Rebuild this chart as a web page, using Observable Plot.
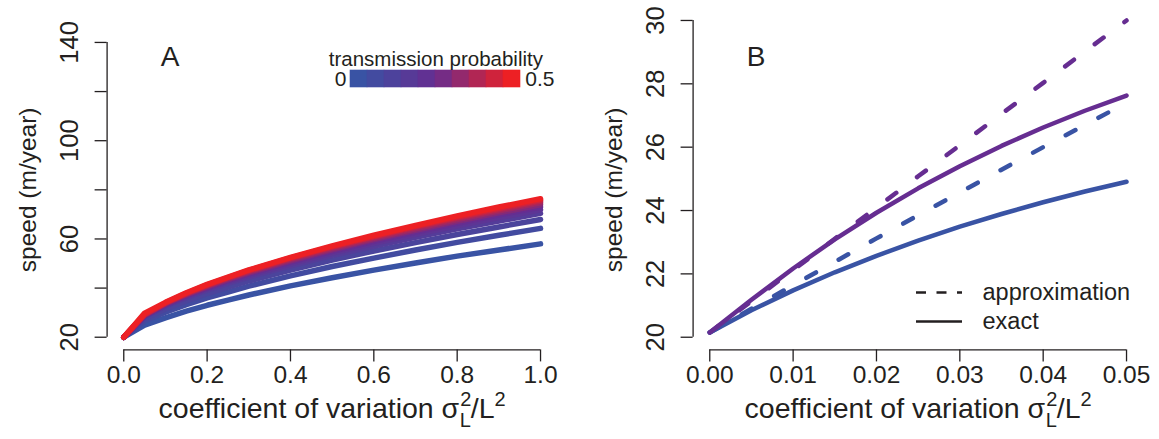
<!DOCTYPE html>
<html>
<head>
<meta charset="utf-8">
<script src="https://cdn.jsdelivr.net/npm/d3@7"></script>
<script src="https://cdn.jsdelivr.net/npm/@observablehq/plot@0.6"></script>
<style>
  html, body { margin: 0; padding: 0; background: #fff; }
  #root { position: relative; width: 1159px; height: 439px; overflow: hidden; background: #fff; }
  #root > svg, #root > figure { position: absolute; margin: 0; }
  #root g[aria-label$="tick"] { stroke-width: 1.3px; }
</style>
</head>
<body>
<div id="root"></div>
<script>
// ---------------- data ----------------
// Panel A: speed vs coefficient of variation for several transmission probabilities
const cvA = [0, 0.05, 0.1, 0.15, 0.2, 0.25, 0.3, 0.4, 0.5, 0.6, 0.7, 0.8, 0.9, 1.0];
const transmissionProbs = [0, 0.05, 0.1, 0.15, 0.2, 0.25, 0.3, 0.35, 0.4, 0.45, 0.5];
const speedP000 = [20, 24.9, 27.9, 30.6, 33.0, 35.1, 37.2, 40.9, 44.2, 47.3, 50.2, 53.0, 55.5, 58.0];
const speedP005 = [20, 26.6, 30.2, 33.3, 36.0, 38.4, 40.8, 45.0, 48.8, 52.2, 55.5, 58.6, 61.5, 64.3];
const speedP010 = [20, 27.5, 31.5, 34.8, 37.8, 40.4, 42.9, 47.3, 51.4, 55.1, 58.5, 61.8, 64.9, 67.9];
const speedP015 = [20, 28.4, 32.7, 36.1, 39.2, 41.9, 44.5, 49.1, 53.3, 57.1, 60.7, 64.1, 67.3, 70.4];
const speedP020 = [20, 28.6, 33.0, 36.6, 39.8, 42.6, 45.2, 49.9, 54.3, 58.2, 61.9, 65.4, 68.7, 71.9];
const speedP025 = [20, 28.8, 33.3, 37.0, 40.2, 43.1, 45.8, 50.6, 55.0, 59.0, 62.8, 66.4, 69.8, 73.0];
const speedP030 = [20, 28.9, 33.5, 37.2, 40.5, 43.4, 46.2, 51.1, 55.6, 59.7, 63.5, 67.2, 70.6, 73.9];
const speedP035 = [20, 29.1, 33.7, 37.5, 40.8, 43.8, 46.6, 51.6, 56.1, 60.3, 64.1, 67.9, 71.4, 74.7];
const speedP040 = [20, 29.2, 33.9, 37.7, 41.1, 44.1, 46.9, 52.0, 56.6, 60.8, 64.7, 68.5, 72.0, 75.4];
const speedP045 = [20, 29.3, 34.0, 37.9, 41.3, 44.3, 47.2, 52.3, 56.9, 61.1, 65.1, 68.9, 72.5, 75.9];
const speedP050 = [20, 29.8, 34.2, 38.1, 41.5, 44.5, 47.4, 52.5, 57.2, 61.5, 65.5, 69.4, 73.0, 76.4];

// Panel B: exact vs approximation for two transmission probabilities
const cvB = [0, 0.005, 0.01, 0.015, 0.02, 0.025, 0.03, 0.035, 0.04, 0.045, 0.05];
const exactBlue    = [20.15, 20.85, 21.48, 22.05, 22.57, 23.05, 23.49, 23.89, 24.26, 24.60, 24.91];
const approxBlue   = [20.15, 20.90, 21.64, 22.38, 23.12, 23.85, 24.57, 25.29, 26.00, 26.70, 27.40];
const exactPurple  = [20.15, 21.18, 22.17, 23.09, 23.93, 24.70, 25.40, 26.04, 26.62, 27.15, 27.63];
const approxPurple = [20.15, 21.14, 22.12, 23.11, 24.09, 25.08, 26.06, 27.05, 28.03, 29.02, 30.00];

// ticks and labels
const xTicksA = [0, 0.2, 0.4, 0.6, 0.8, 1.0];
const yTicksA = [20, 40, 60, 80, 100, 120, 140];
const yLabelsA = [20, 60, 100, 140];
const xTicksB = [0, 0.01, 0.02, 0.03, 0.04, 0.05];
const yTicksB = [20, 22, 24, 26, 28, 30];
const yLabelsB = [20, 22, 24, 26, 28, 30];
const yTitle = "speed (m/year)";
const xTitle = "coefficient of variation σ_L^2/L^2";
const legendTitleA = "transmission probability";
const legendEndsA = ["0", "0.5"];
const legendBlocksA = [0, 0.0556, 0.1111, 0.1667, 0.2222, 0.2778, 0.3333, 0.3889, 0.4444, 0.5];
const legendItemsB = ["approximation", "exact"];

// ---------------- styles ----------------
const INK = "#231F20";
const FONT = '"Liberation Sans", Arial, Helvetica, sans-serif';
const BLUE = "#3953A4", PURPLE = "#662D91", RED = "#ED2024";
const colorScale = {type: "linear", domain: [0, 0.25, 0.5], range: [BLUE, PURPLE, RED], interpolate: "rgb"};
const XTICK_FS = 24.5, YTICK_FS = 25.5, XTITLE_FS = 28.5, YTITLE_FS = 24.5;

const seriesA = [speedP000, speedP005, speedP010, speedP015, speedP020, speedP025,
                 speedP030, speedP035, speedP040, speedP045, speedP050];
const rowsA = [];
transmissionProbs.forEach((p, k) => cvA.forEach((cv, i) => rowsA.push({p, cv, speed: seriesA[k][i]})));
const rowsOf = (xs, ys) => xs.map((cv, i) => ({cv, speed: ys[i]}));

function axisMarks(xTicks, yTicks, yLabels, xDomain, yDomain, fmt, letter) {
  return [
    Plot.ruleY([yDomain[0]], {x1: xTicks[0], x2: xTicks[xTicks.length - 1], stroke: INK, strokeWidth: 1.3}),
    Plot.ruleX([xDomain[0]], {y1: yTicks[0], y2: yTicks[yTicks.length - 1], stroke: INK, strokeWidth: 1.3}),
    Plot.text(xTicks, {x: d => d, frameAnchor: "bottom", dy: 33, textAnchor: "middle", text: d => fmt(d), fontSize: XTICK_FS, fill: INK}),
    Plot.text(yLabels, {y: d => d, frameAnchor: "left", dx: -37, rotate: -90, textAnchor: "middle", text: d => String(d), fontSize: YTICK_FS, fill: INK}),
    Plot.text([yTitle], {frameAnchor: "left", dx: -79, dy: 11, rotate: -90, textAnchor: "middle", text: d => d, fontSize: YTITLE_FS, fill: INK}),
    Plot.text([xTitle], {frameAnchor: "bottom", dy: 68, textAnchor: "middle", text: d => d, fontSize: XTITLE_FS, fill: INK}),
    Plot.text([letter], {frameAnchor: "top-left", dx: 63, dy: 38, textAnchor: "middle", text: d => d, fontSize: 28, fill: INK})
  ];
}

function basePlot(opts) {
  return Plot.plot({
    width: opts.width, height: 439,
    marginLeft: opts.ml, marginRight: opts.mr, marginTop: 7.3, marginBottom: 89.6,
    style: {fontFamily: FONT, fontSize: "24px", color: INK, background: "transparent", overflow: "visible"},
    x: {domain: opts.xDomain, ticks: opts.xTicks, tickSize: 12, tickFormat: () => "", label: null},
    y: {domain: opts.yDomain, ticks: opts.yTicks, tickSize: 12, tickFormat: () => "", label: null},
    color: colorScale,
    marks: opts.marks
  });
}

function richTitle(svg) {
  const NS = "http://www.w3.org/2000/svg";
  const small = Math.round(XTITLE_FS * 0.7);
  for (const t of svg.querySelectorAll("text")) {
    if (t.textContent === xTitle) {
      t.textContent = "coefficient of variation σ";
      const add = (s, dy, dx, size) => {
        const ts = document.createElementNS(NS, "tspan");
        ts.textContent = s;
        if (dy) ts.setAttribute("dy", dy);
        if (dx) ts.setAttribute("dx", dx);
        if (size) ts.setAttribute("font-size", size);
        t.appendChild(ts);
      };
      add("2", -12, 1, small);
      add("L", 21, -(small * 0.556 + 0.5), small);
      add("/L", -9, 0, null);
      add("2", -12, 0, small);
    }
  }
}

// ---------------- panel A ----------------
const xDomainA = [-0.04, 1.04], yDomainA = [14.84, 154.1];
const panelA = basePlot({
  width: 580, ml: 106.6, mr: 23.3, xDomain: xDomainA, yDomain: yDomainA, xTicks: xTicksA, yTicks: yTicksA,
  marks: [
    Plot.line(rowsA, {x: "cv", y: "speed", z: "p", stroke: "p", strokeWidth: 5.5, strokeLinecap: "round", strokeLinejoin: "round"}),
    ...axisMarks(xTicksA, yTicksA, yLabelsA, xDomainA, yDomainA, d3.format(".1f"), "A")
  ]
});
panelA.style.left = "0px"; panelA.style.top = "0px";
richTitle(panelA);

// ---------------- panel B ----------------
const xDomainB = [-0.002, 0.052], yDomainB = [19.6, 30.4];
const lineB = (ys, color, dashed) => Plot.line(rowsOf(cvB, ys), {
  x: "cv", y: "speed", stroke: color, strokeWidth: 4.5, strokeLinecap: "round", strokeLinejoin: "round",
  strokeDasharray: dashed ? "11,26" : null
});
const panelB = basePlot({
  width: 579, ml: 112.6, mr: 16.3, xDomain: xDomainB, yDomain: yDomainB, xTicks: xTicksB, yTicks: yTicksB,
  marks: [
    lineB(exactBlue, BLUE, false),
    lineB(exactPurple, PURPLE, false),
    lineB(approxBlue, BLUE, true),
    lineB(approxPurple, PURPLE, true),
    ...axisMarks(xTicksB, yTicksB, yLabelsB, xDomainB, yDomainB, d3.format(".2f"), "B")
  ]
});
panelB.style.left = "580px"; panelB.style.top = "0px";
richTitle(panelB);

// ---------------- legend A (colour bar) ----------------
const legendA = Plot.plot({
  width: 260, height: 70, marginLeft: 49, marginRight: 38.3, marginTop: 40, marginBottom: 13,
  style: {fontFamily: FONT, fontSize: "20px", color: INK, background: "transparent", overflow: "visible"},
  x: {type: "band", domain: legendBlocksA, padding: 0, axis: null},
  color: colorScale,
  marks: [
    Plot.cell(legendBlocksA, {x: d => d, fill: d => d, stroke: d => d, strokeWidth: 0.6, inset: 0}),
    Plot.text([legendTitleA], {frameAnchor: "top", dy: -19, textAnchor: "middle", text: d => d, fontSize: 20.5, fill: INK}),
    Plot.text([legendEndsA[0]], {frameAnchor: "left", dx: -3, textAnchor: "end", text: d => d, fontSize: 21, fill: INK}),
    Plot.text([legendEndsA[1]], {frameAnchor: "right", dx: 3, textAnchor: "start", text: d => d, fontSize: 21, fill: INK})
  ]
});
legendA.style.left = "300px"; legendA.style.top = "30px";

// ---------------- legend B (line styles) ----------------
const legendB = Plot.plot({
  width: 240, height: 60, marginLeft: 0, marginRight: 194, marginTop: 0, marginBottom: 0,
  style: {fontFamily: FONT, fontSize: "23.5px", color: INK, background: "transparent", overflow: "visible"},
  x: {domain: [0, 1], axis: null},
  y: {type: "point", domain: legendItemsB, range: [15, 44.3], padding: 0, axis: null},
  marks: [
    Plot.ruleY([legendItemsB[0]], {y: d => d, x1: 0, x2: 1, stroke: INK, strokeWidth: 2.6, strokeDasharray: "10,10.5"}),
    Plot.ruleY([legendItemsB[1]], {y: d => d, x1: 0, x2: 1, stroke: INK, strokeWidth: 2.6}),
    Plot.text(legendItemsB, {x: 1, y: d => d, dx: 20, textAnchor: "start", text: d => d, fontSize: 23.5, fill: INK})
  ]
});
legendB.style.left = "916px"; legendB.style.top = "276.7px";

const root = document.getElementById("root");
root.append(panelA, panelB, legendA, legendB);
</script>
</body>
</html>
